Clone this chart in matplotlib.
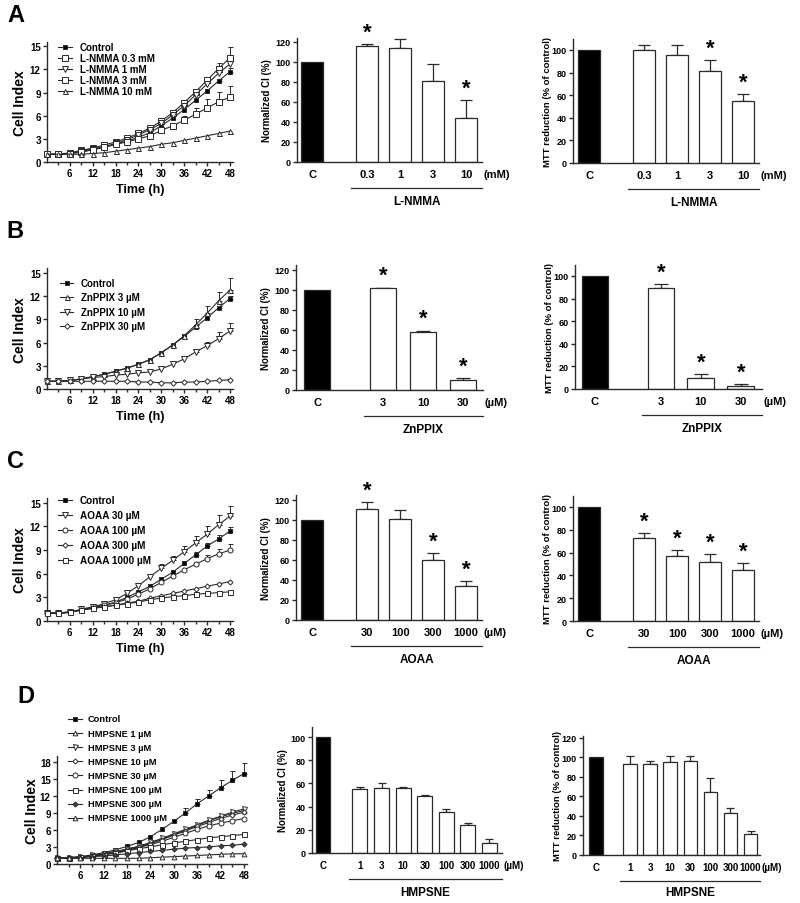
import numpy as np
import matplotlib
matplotlib.use("Agg")
import matplotlib.pyplot as plt
from matplotlib.lines import Line2D
from matplotlib.transforms import blended_transform_factory, offset_copy

plt.rcParams['font.family'] = ['Liberation Sans', 'DejaVu Sans']
plt.rcParams['font.weight'] = 'bold'
plt.rcParams['axes.labelweight'] = 'bold'

W, H = 800, 904

# time points of the impedance (xCELLigence) readings
time_h = [0, 3, 6, 9, 12, 15, 18, 21, 24, 27, 30, 33, 36, 39, 42, 45, 48]

# ---- row A: L-NMMA
a_labels = ['Control', 'L-NMMA 0.3 mM', 'L-NMMA 1 mM', 'L-NMMA 3 mM', 'L-NMMA 10 mM']
a_control = [1.0, 1.0, 1.1, 1.3, 1.6, 1.9, 2.3, 2.7, 3.2, 3.8, 4.7, 5.7, 6.8, 8.0, 9.2, 10.5, 11.7]
a_nmma_03 = [1.0, 1.0, 1.2, 1.5, 1.8, 2.2, 2.6, 3.1, 3.7, 4.4, 5.3, 6.4, 7.7, 9.1, 10.6, 12.1, 13.5]
a_nmma_1 = [1.0, 1.0, 1.1, 1.4, 1.7, 2.0, 2.4, 2.9, 3.5, 4.2, 5.0, 6.1, 7.3, 8.7, 10.1, 11.5, 12.7]
a_nmma_3 = [1.0, 1.0, 1.1, 1.3, 1.6, 1.9, 2.3, 2.6, 3.0, 3.4, 4.1, 4.7, 5.4, 6.2, 7.0, 7.8, 8.4]
a_nmma_10 = [1.0, 1.0, 1.0, 1.0, 1.1, 1.2, 1.4, 1.6, 1.8, 2.0, 2.3, 2.5, 2.8, 3.1, 3.4, 3.7, 4.0]
a_err_control = [0, 0, 0, 0, 0, 0, 0, 0, 0, 0, 0, 0, 0, 0, 0, 0.3, 0.5]
a_err_03 = [0, 0, 0, 0, 0, 0, 0, 0, 0, 0, 0, 0, 0, 0, 0.4, 0.7, 1.4]
a_err_3 = [0, 0, 0, 0, 0, 0, 0, 0, 0, 0, 0, 0, 0.5, 0.8, 1.1, 1.3, 1.5]

a_doses = ['0.3', '1', '3', '10']
a_ci_mean = [100, 116, 114, 81, 44]
a_ci_err = [0, 2, 9, 17, 18]
a_ci_star = [0, 1, 0, 0, 1]
a_mtt_mean = [100, 100, 96, 81, 55]
a_mtt_err = [0, 4, 8, 10, 6]
a_mtt_star = [0, 0, 0, 1, 1]

# ---- row B: ZnPPIX
b_labels = ['Control', 'ZnPPIX 3 µM', 'ZnPPIX 10 µM', 'ZnPPIX 30 µM']
b_control = [1.0, 1.0, 1.1, 1.3, 1.6, 1.9, 2.3, 2.7, 3.2, 3.8, 4.7, 5.7, 6.8, 8.0, 9.2, 10.5, 11.7]
b_zn_3 = [1.0, 1.0, 1.1, 1.3, 1.6, 1.9, 2.3, 2.7, 3.2, 3.8, 4.7, 5.7, 6.9, 8.3, 9.8, 11.4, 12.8]
b_zn_10 = [1.0, 1.0, 1.1, 1.3, 1.5, 1.6, 1.8, 1.9, 2.1, 2.2, 2.6, 3.2, 3.9, 4.8, 5.6, 6.5, 7.5]
b_zn_30 = [1.0, 1.0, 1.0, 1.0, 1.0, 1.0, 1.0, 1.0, 0.9, 0.9, 0.8, 0.8, 0.9, 0.9, 1.0, 1.1, 1.2]
b_err_control = [0, 0, 0, 0, 0, 0, 0, 0, 0, 0, 0, 0, 0, 0, 0, 0.3, 0.3]
b_err_zn_3 = [0, 0, 0, 0, 0, 0, 0, 0, 0, 0, 0, 0, 0, 0.7, 0.9, 1.2, 1.6]
b_err_zn_10 = [0, 0, 0, 0, 0, 0, 0, 0, 0, 0, 0, 0, 0, 0.3, 0.5, 0.9, 1.1]

b_doses = ['3', '10', '30']
b_ci_mean = [100, 102, 58, 10]
b_ci_err = [0, 0.5, 1.5, 2]
b_ci_star = [0, 1, 1, 1]
b_mtt_mean = [100, 89, 10, 3]
b_mtt_err = [0, 4, 3, 1.5]
b_mtt_star = [0, 1, 1, 1]

# ---- row C: AOAA
c_labels = ['Control', 'AOAA 30 µM', 'AOAA 100 µM', 'AOAA 300 µM', 'AOAA 1000 µM']
c_control = [1.0, 1.0, 1.2, 1.4, 1.7, 2.0, 2.4, 3.0, 3.7, 4.4, 5.3, 6.2, 7.3, 8.4, 9.5, 10.4, 11.4]
c_aoaa_30 = [1.0, 1.0, 1.1, 1.5, 1.8, 2.2, 2.7, 3.5, 4.5, 5.6, 6.7, 7.7, 8.8, 9.9, 11.0, 12.2, 13.3]
c_aoaa_100 = [1.0, 1.0, 1.1, 1.4, 1.7, 2.0, 2.3, 2.8, 3.4, 4.1, 4.9, 5.7, 6.5, 7.2, 7.9, 8.5, 9.0]
c_aoaa_300 = [1.0, 1.0, 1.1, 1.4, 1.6, 1.8, 2.0, 2.3, 2.5, 2.9, 3.2, 3.5, 3.8, 4.1, 4.4, 4.7, 5.0]
c_aoaa_1000 = [1.0, 1.0, 1.1, 1.4, 1.6, 1.8, 2.0, 2.2, 2.4, 2.7, 2.9, 3.1, 3.2, 3.4, 3.5, 3.6, 3.7]
c_err_control = [0, 0, 0, 0, 0, 0, 0, 0, 0, 0, 0, 0, 0, 0.3, 0.4, 0.5, 0.5]
c_err_30 = [0, 0, 0, 0, 0, 0, 0, 0, 0, 0, 0.5, 0.6, 0.7, 0.9, 1.0, 1.2, 1.3]
c_err_100 = [0, 0, 0, 0, 0, 0, 0, 0, 0, 0, 0, 0, 0, 0.3, 0.5, 0.6, 0.8]

c_doses = ['30', '100', '300', '1000']
c_ci_mean = [100, 111, 101, 60, 34]
c_ci_err = [0, 7, 9, 7, 5]
c_ci_star = [0, 1, 0, 1, 1]
c_mtt_mean = [100, 73, 57, 52, 45]
c_mtt_err = [0, 4, 5, 7, 6]
c_mtt_star = [0, 1, 1, 1, 1]

# ---- row D: HMPSNE
d_labels = ['Control', 'HMPSNE 1 µM', 'HMPSNE 3 µM', 'HMPSNE 10 µM', 'HMPSNE 30 µM',
            'HMPSNE 100 µM', 'HMPSNE 300 µM', 'HMPSNE 1000 µM']
d_control = [1.0, 1.1, 1.3, 1.6, 2.0, 2.5, 3.1, 3.8, 4.8, 6.1, 7.5, 9.0, 10.6, 12.0, 13.4, 14.7, 15.9]
d_hm_1 = [1.0, 1.1, 1.2, 1.5, 1.8, 2.2, 2.6, 3.1, 3.7, 4.4, 5.2, 6.0, 6.8, 7.6, 8.3, 8.9, 9.4]
d_hm_3 = [1.0, 1.1, 1.2, 1.5, 1.8, 2.2, 2.6, 3.1, 3.8, 4.5, 5.3, 6.1, 6.9, 7.7, 8.4, 9.1, 9.7]
d_hm_10 = [1.0, 1.1, 1.2, 1.4, 1.7, 2.1, 2.5, 3.0, 3.6, 4.3, 5.1, 5.8, 6.6, 7.3, 8.0, 8.6, 9.1]
d_hm_30 = [1.0, 1.1, 1.2, 1.4, 1.7, 2.0, 2.4, 2.9, 3.4, 4.0, 4.7, 5.4, 6.1, 6.7, 7.2, 7.6, 8.0]
d_hm_100 = [1.0, 1.1, 1.2, 1.4, 1.6, 1.9, 2.3, 2.7, 3.0, 3.4, 3.7, 4.0, 4.3, 4.6, 4.8, 5.0, 5.2]
d_hm_300 = [1.0, 1.0, 1.1, 1.3, 1.4, 1.6, 1.8, 2.0, 2.2, 2.4, 2.6, 2.8, 2.9, 3.0, 3.2, 3.3, 3.5]
d_hm_1000 = [1.0, 1.0, 1.0, 1.0, 1.0, 1.0, 1.0, 1.0, 1.1, 1.2, 1.3, 1.4, 1.5, 1.6, 1.7, 1.8, 1.8]
d_err_control = [0, 0, 0, 0, 0, 0, 0, 0, 0, 0, 0.4, 0.8, 0.9, 1.1, 1.4, 1.6, 1.8]

d_doses = ['1', '3', '10', '30', '100', '300', '1000']
d_ci_mean = [100, 55, 56, 56, 49.5, 35, 24, 9]
d_ci_err = [0, 2, 4, 1, 0.5, 3, 2, 3]
d_ci_star = [0, 0, 0, 0, 0, 0, 0, 0]
d_mtt_mean = [100, 93, 93, 95, 96, 65, 43, 22]
d_mtt_err = [0, 8, 3, 6, 5, 14, 5, 3]
d_mtt_star = [0, 0, 0, 0, 0, 0, 0, 0]

INK = '#2a2a2a'
fig = plt.figure(figsize=(W / 100, H / 100), dpi=100)


def px_axes(left, top, right, bottom):
    return fig.add_axes([left / W, 1 - bottom / H, (right - left) / W, (bottom - top) / H])


def style_axes(ax):
    for s in ['top', 'right']:
        ax.spines[s].set_visible(False)
    for s in ['left', 'bottom']:
        ax.spines[s].set_linewidth(1.0)
        ax.spines[s].set_color(INK)
    ax.tick_params(direction='out', width=1.0, color=INK, length=3, labelsize=7, pad=1.5)


def draw_legend(labels, styles, x_handle, y_first, pitch, fs, handle_len=14, text_gap=8):
    # GraphPad style key, laid out row by row in figure pixels
    for i, (lab, (mk, fc, ms)) in enumerate(zip(labels, styles)):
        y = 1 - (y_first + i * pitch) / H
        xs = [x_handle / W, (x_handle + handle_len / 2) / W, (x_handle + handle_len) / W]
        fig.add_artist(Line2D(xs, [y, y, y], color=INK, lw=0.8, marker=mk, ms=ms, mfc=fc,
                              mec=INK, mew=0.7, markevery=[1]))
        fig.text((x_handle + handle_len + text_gap) / W, y, lab, fontsize=fs, va='center', ha='left')


def line_panel(box, ylim, yticks, series, labels, styles, errs, leg, xlabel=True, ylabel_off=27):
    ax = px_axes(*box)
    style_axes(ax)
    t = np.array(time_h)
    for y, lab, (mk, fc, ms), e in zip(series, labels, styles, errs):
        y = np.array(y)
        if e is not None:
            e = np.array(e)
            m = e > 0
            ax.errorbar(t[m], y[m], yerr=[np.zeros(m.sum()), e[m]], fmt='none', ecolor=INK,
                        elinewidth=0.7, capsize=1.8, capthick=0.7, zorder=2, clip_on=False)
        ax.plot(t, y, color=INK, lw=0.8, marker=mk, ms=ms, mfc=fc, mec=INK, mew=0.7,
                label=lab, zorder=3, clip_on=False)
    ax.set_xlim(0, 48.8)
    ax.set_ylim(*ylim)
    ax.set_xticks([6, 12, 18, 24, 30, 36, 42, 48])
    ax.set_xticks([3, 9, 15, 21, 27, 33, 39, 45], minor=True)
    ax.tick_params(axis='x', which='minor', length=2.5, width=1.0, color=INK)
    ax.set_yticks(yticks)
    ax.set_ylabel('Cell Index', fontsize=10, va='center')
    ax.yaxis.set_label_coords(-ylabel_off / (box[2] - box[0]), 0.5)
    if xlabel:
        ax.set_xlabel('Time (h)', fontsize=9, va='center')
        ax.xaxis.set_label_coords(0.5, -27 / (box[3] - box[1]))
    draw_legend(labels, styles, *leg)
    return ax


def bar_panel(box, xlim, ylim, yticks, doses, means, errs, stars, unit, group, ylabel,
              ylabel_off, gap=1.67, width=0.67, tick_fs=8, cap=4.5, group_off=39, ylabel_fs=7):
    ax = px_axes(*box)
    style_axes(ax)
    xs = [0] + [gap + i for i in range(len(doses))]
    colors = ['black'] + ['white'] * len(doses)
    ax.bar(xs, means, width=width, color=colors, edgecolor=INK, linewidth=0.9, zorder=2)
    ex = [x for x, e in zip(xs, errs) if e > 0]
    ey = [m for m, e in zip(means, errs) if e > 0]
    ee = [e for e in errs if e > 0]
    ax.errorbar(ex, ey, yerr=[[0] * len(ee), ee], fmt='none', ecolor=INK, elinewidth=0.9,
                capsize=cap, capthick=0.9, zorder=1)
    for x, m, e, s in zip(xs, means, errs, stars):
        if s:
            ax.annotate('*', xy=(x, m + e), xytext=(0, 1), textcoords='offset points',
                        ha='center', va='bottom', fontsize=16)
    ax.set_xlim(*xlim)
    ax.set_ylim(*ylim)
    ax.set_yticks(yticks)
    ax.set_xticks(xs, ['C'] + doses)
    ax.tick_params(axis='x', length=0, pad=5, labelsize=tick_fs)
    ax.tick_params(axis='y', labelsize=6.5)
    ax.annotate(unit, xy=(1, 0), xycoords='axes fraction', xytext=(1, -5),
                textcoords='offset points', ha='left', va='top', fontsize=tick_fs)
    base = blended_transform_factory(ax.transData, ax.transAxes)
    x0 = xs[1] - width / 2 - 0.15
    ax.plot([x0, xlim[1]], [0, 0], color=INK, lw=0.9, clip_on=False,
            transform=offset_copy(base, fig=fig, y=-26, units='dots'))
    ax.text((x0 + xlim[1]) / 2, 0, group, ha='center', va='center', fontsize=8.5,
            transform=offset_copy(base, fig=fig, y=-group_off, units='dots'))
    ax.set_ylabel(ylabel, fontsize=ylabel_fs, va='center')
    ax.yaxis.set_label_coords(-ylabel_off / (box[2] - box[0]), 0.5)
    return ax


CI_LABEL = 'Normalized CI (%)'
MTT_LABEL = 'MTT reduction (% of control)'

# row A
line_panel((47, 42.6, 233, 163), (0, 15.6), [0, 3, 6, 9, 12, 15],
           [a_control, a_nmma_03, a_nmma_1, a_nmma_3, a_nmma_10], a_labels,
           [('s', 'black', 3.4), ('s', 'white', 3.8), ('v', 'white', 3.8), ('s', 'white', 3.8), ('^', 'white', 3.6)],
           [a_err_control, a_err_03, None, a_err_3, None],
           (58, 48, 11.1, 7.0))
bar_panel((297, 39, 482, 163), (-0.455, 5.15), (0, 124), [0, 20, 40, 60, 80, 100, 120],
          a_doses, a_ci_mean, a_ci_err, a_ci_star, '(mM)', 'L-NMMA', CI_LABEL, 30)
bar_panel((573, 39.7, 759, 164), (-0.485, 5.15), (0, 110), [0, 20, 40, 60, 80, 100],
          a_doses, a_mtt_mean, a_mtt_err, a_mtt_star, '(mM)', 'L-NMMA', MTT_LABEL, 26, ylabel_fs=6.8)

# row B
line_panel((47, 269.4, 233, 390), (0, 15.6), [0, 3, 6, 9, 12, 15],
           [b_control, b_zn_3, b_zn_10, b_zn_30], b_labels,
           [('s', 'black', 3.4), ('^', 'white', 3.6), ('v', 'white', 3.8), ('D', 'white', 2.8)],
           [b_err_control, b_err_zn_3, b_err_zn_10, None],
           (60, 284, 14.3, 7.0, 13))
bar_panel((296, 266, 483, 391), (-0.525, 4.15), (0, 125), [0, 20, 40, 60, 80, 100, 120],
          b_doses, b_ci_mean, b_ci_err, b_ci_star, '(µM)', 'ZnPPIX', CI_LABEL, 30, gap=1.65, cap=5)
bar_panel((575, 265.7, 762, 390), (-0.5, 4.18), (0, 110), [0, 20, 40, 60, 80, 100],
          b_doses, b_mtt_mean, b_mtt_err, b_mtt_star, '(µM)', 'ZnPPIX', MTT_LABEL, 26, gap=1.65, cap=5,
          ylabel_fs=6.8)

# row C
line_panel((47, 499, 233, 622), (0, 15.6), [0, 3, 6, 9, 12, 15],
           [c_control, c_aoaa_30, c_aoaa_100, c_aoaa_300, c_aoaa_1000], c_labels,
           [('s', 'black', 3.4), ('v', 'white', 3.8), ('o', 'white', 3.6), ('D', 'white', 2.6), ('s', 'white', 3.6)],
           [c_err_control, c_err_30, c_err_100, None, None],
           (58, 501, 15.0, 7.2))
bar_panel((296, 496, 482, 621), (-0.485, 5.15), (0, 125), [0, 20, 40, 60, 80, 100, 120],
          c_doses, c_ci_mean, c_ci_err, c_ci_star, '(µM)', 'AOAA', CI_LABEL, 30)
bar_panel((573, 496.6, 759, 622), (-0.485, 5.15), (0, 110), [0, 20, 40, 60, 80, 100],
          c_doses, c_mtt_mean, c_mtt_err, c_mtt_star, '(µM)', 'AOAA', MTT_LABEL, 26, ylabel_fs=6.8)

# row D
line_panel((57, 757, 247, 865), (0, 19), [0, 3, 6, 9, 12, 15, 18],
           [d_control, d_hm_1, d_hm_3, d_hm_10, d_hm_30, d_hm_100, d_hm_300, d_hm_1000], d_labels,
           [('s', 'black', 3.4), ('^', 'white', 3.4), ('v', 'white', 3.6), ('D', 'white', 2.6), ('o', 'white', 3.6),
            ('s', 'white', 3.6), ('D', '#444444', 2.6), ('^', 'white', 3.4)],
           [d_err_control, None, None, None, None, None, None, None],
           (68, 720, 14.1, 6.7, 14, 6), xlabel=False, ylabel_off=25)
bar_panel((312, 727.6, 502, 854), (-0.51, 8.29), (0, 109), [0, 20, 40, 60, 80, 100],
          d_doses, d_ci_mean, d_ci_err, d_ci_star, '(µM)', 'HMPSNE', CI_LABEL, 29,
          gap=1.71, width=0.69, tick_fs=7, cap=2.8)
bar_panel((583, 737, 760, 856), (-0.65, 8.16), (0, 122), [0, 20, 40, 60, 80, 100, 120],
          d_doses, d_mtt_mean, d_mtt_err, d_mtt_star, '(µM)', 'HMPSNE', MTT_LABEL, 25,
          gap=1.69, width=0.67, tick_fs=7, cap=2.8, group_off=37, ylabel_fs=6.8)

for letter, x, y in [('A', 16, 15), ('B', 15, 232), ('C', 15, 461), ('D', 26, 697)]:
    fig.text(x / W, 1 - y / H, letter, fontsize=17, fontweight='bold', ha='center', va='center')

fig.savefig('out.png', dpi=100)
